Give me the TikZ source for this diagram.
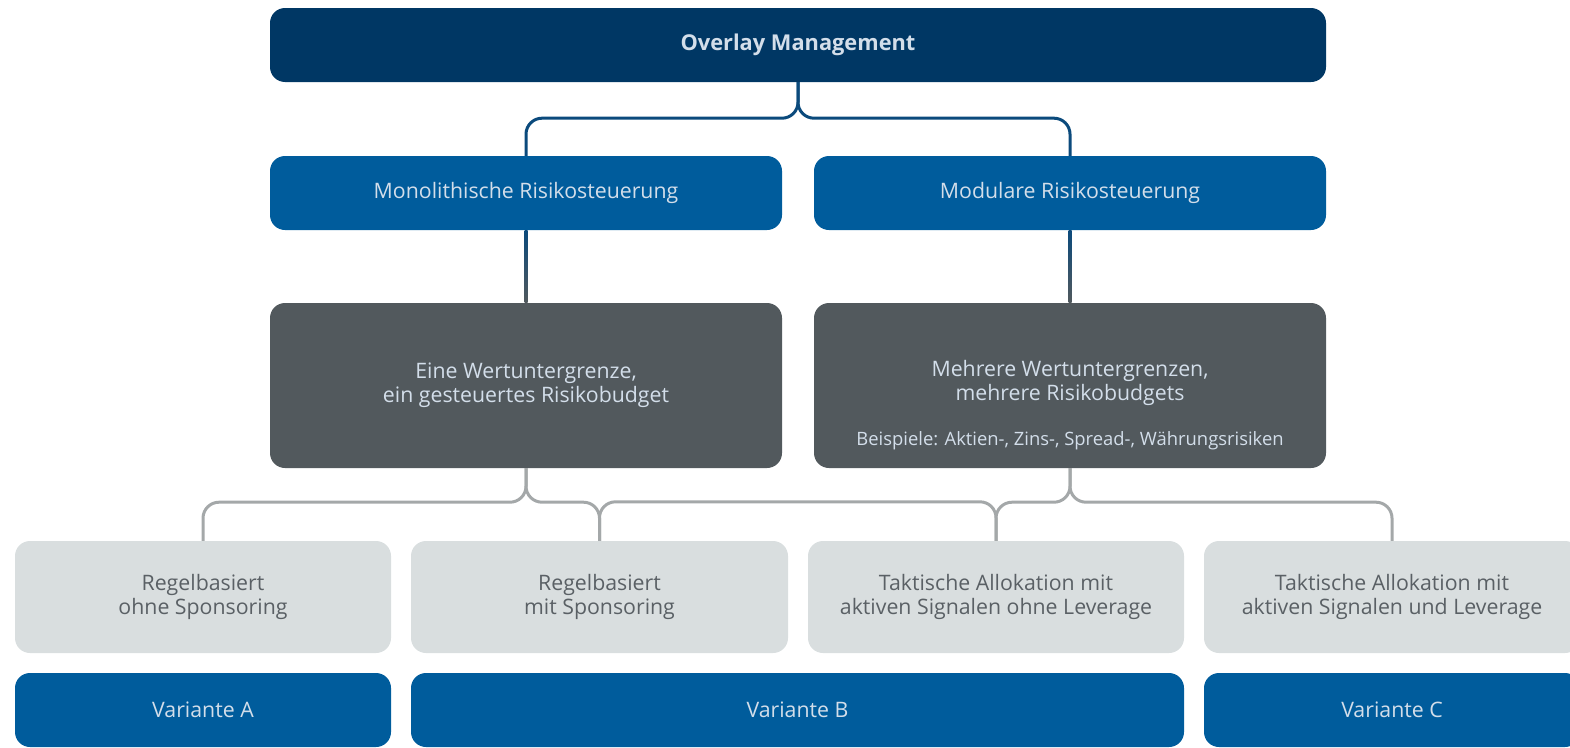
\documentclass[tikz,border=0pt]{standalone}
\usepackage{fontspec}
\setmainfont{Open Sans}
\definecolor{navy}{HTML}{003764}
\definecolor{midblue}{HTML}{005C9C}
\definecolor{darkgray}{HTML}{52595D}
\definecolor{lightbox}{HTML}{D9DEDF}
\definecolor{bluetext}{HTML}{D3DEEA}
\definecolor{graytext}{HTML}{5A6065}
\definecolor{topline}{HTML}{0B4A7C}
\definecolor{botline}{HTML}{A4A8A9}
\newcommand{\mainfs}{\fontsize{21.3}{24}\selectfont}
\newcommand{\smallfs}{\fontsize{18.4}{21}\selectfont}
\tikzset{
  box/.style={rounded corners=15pt, inner sep=0pt, align=center, font=\mainfs},
  bluebox/.style={box, fill=midblue, text=bluetext, minimum height=74pt},
  graybox/.style={box, fill=darkgray, text=bluetext, minimum height=165pt, minimum width=512pt},
  lightb/.style={box, fill=lightbox, text=graytext, minimum height=112pt},
  tc/.style={draw=topline, line width=3pt, rounded corners=16pt},
  bc/.style={draw=botline, line width=3pt, rounded corners=16pt},
}
\begin{document}
\begin{tikzpicture}[x=1pt,y=-1pt]
\useasboundingbox (0,0) rectangle (1570,747);
\clip (0,0) rectangle (1570,747);
% top
\node[box, fill=navy, text=bluetext, minimum width=1056pt, minimum height=74pt, font=\fontsize{21.8}{24}\selectfont\bfseries] (om) at (798,45) {Overlay Management};
\node[bluebox, minimum width=512pt] (mono) at (526,193) {Monolithische Risikosteuerung};
\node[bluebox, minimum width=512pt] (modu) at (1070,193) {Modulare Risikosteuerung};
\node[graybox] (eine) at (526,385.5) {Eine Wertuntergrenze,\\ein gesteuertes Risikobudget};
\node[graybox] (mehr) at (1070,385.5) {};
\node[text=bluetext, font=\mainfs, align=center, inner sep=0pt] (mehrt) at (1070,382.5) {Mehrere Wertuntergrenzen,\\mehrere Risikobudgets};
\node[text=bluetext, font=\smallfs, inner sep=0pt] (bsp) at (1070,441) {Beispiele: Aktien-, Zins-, Spread-, Währungsrisiken};
% bottom row
\node[lightb, minimum width=376pt] (ra) at (203,597) {Regelbasiert\\ohne Sponsoring};
\node[lightb, minimum width=377pt] (rb) at (599.5,597) {Regelbasiert\\mit Sponsoring};
\node[lightb, minimum width=376pt] (rc) at (996,597) {Taktische Allokation mit\\aktiven Signalen ohne Leverage};
\node[lightb, minimum width=376pt] (rd) at (1392,597) {Taktische Allokation mit\\aktiven Signalen und Leverage};
\node[bluebox, minimum width=376pt] (va) at (203,710) {Variante A};
\node[bluebox, minimum width=773pt] (vb) at (797.5,710) {Variante B};
\node[bluebox, minimum width=376pt] (vc) at (1392,710) {Variante C};
% connectors
\draw[tc] (om.south) -- ++(0,36) -| (mono.north);
\draw[tc] (om.south) -- ++(0,36) -| (modu.north);
\shade[top color=topline, bottom color=darkgray] ([xshift=-1.5pt]mono.south) rectangle ([xshift=1.5pt]eine.north);
\shade[top color=topline, bottom color=darkgray] ([xshift=-1.5pt]modu.south) rectangle ([xshift=1.5pt]mehr.north);
\draw[bc] (eine.south) -- ++(0,34) -| (ra.north);
\draw[bc] (eine.south) -- ++(0,34) -| (rb.north);
\draw[bc] (rb.north) -- ++(0,-39) -| (rc.north);
\draw[bc] (mehr.south) -- ++(0,34) -| (rc.north);
\draw[bc] (mehr.south) -- ++(0,34) -| (rd.north);
\end{tikzpicture}
\end{document}
